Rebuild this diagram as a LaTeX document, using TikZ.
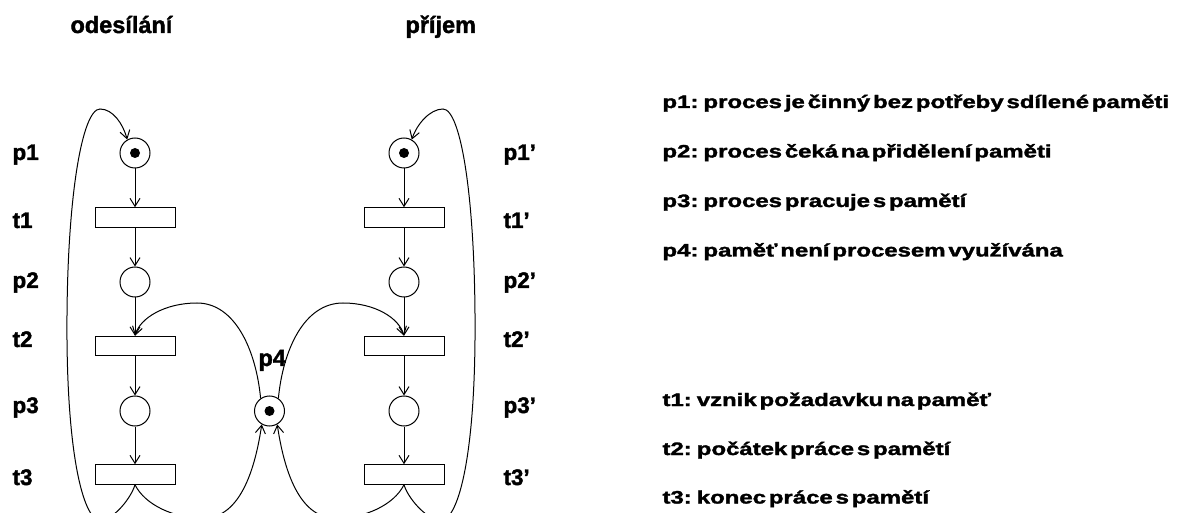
\documentclass[tikz,border=0pt]{standalone}
\usepackage{fontspec}
\setmainfont{Liberation Sans}
\newfontfamily\heavy{Liberation Sans Bold}[FakeBold=1.6]
\usetikzlibrary{arrows.meta}

\newcommand{\widetext}[1]{\scalebox{1.33}[1]{\spaceskip=.12em\relax #1}}

\begin{document}
\begin{tikzpicture}[x=1pt,y=-1pt,
  line width=1pt,
  place/.style={circle,draw,minimum size=30pt,inner sep=0pt},
  marked/.style={place,path picture={\fill (path picture bounding box.center) circle (5pt);}},
  trans/.style={rectangle,draw,minimum width=80pt,minimum height=19.5pt,inner sep=0pt},
  arc/.style={-{Straight Barb[length=8pt,width=10pt]}},
  lbl/.style={font=\heavy\fontsize{22.5}{24}\selectfont,anchor=base west,inner sep=0pt},
  heading/.style={font=\heavy\fontsize{23.5}{26}\selectfont,anchor=base west,inner sep=0pt},
  legend/.style={font=\heavy\fontsize{18}{20}\selectfont,anchor=base west,inner sep=0pt},
]
\useasboundingbox (0,0) rectangle (1179,513);
\clip (0,0) rectangle (1179,513);
\fill[white] (0,0) rectangle (1179,513);

% headings
\node[heading] (hs) at (70,33) {odesílání};
\node[heading] (hr) at (405,33) {příjem};

% sending process
\node[marked] (p1) at (135,153) {};
\node[trans]  (t1) at (135,217.5) {};
\node[place]  (p2) at (135,282) {};
\node[trans]  (t2) at (135,346) {};
\node[place]  (p3) at (135,411) {};
\node[trans]  (t3) at (135,474.5) {};

% receiving process
\node[marked] (q1) at (404,153) {};
\node[trans]  (u1) at (404,217.5) {};
\node[place]  (q2) at (404,282) {};
\node[trans]  (u2) at (404,346) {};
\node[place]  (q3) at (404,411) {};
\node[trans]  (u3) at (404,474.5) {};

% shared memory
\node[marked] (p4) at (269.5,411) {};

% labels
\node[lbl] (lp1) at (12,160) {p1};
\node[lbl] (lt1) at (12,228) {t1};
\node[lbl] (lp2) at (12,288) {p2};
\node[lbl] (lt2) at (12,347) {t2};
\node[lbl] (lp3) at (12,413) {p3};
\node[lbl] (lt3) at (12,485) {t3};
\node[lbl] (lq1) at (503,160) {p1’};
\node[lbl] (lu1) at (503,228) {t1’};
\node[lbl] (lq2) at (503,288) {p2’};
\node[lbl] (lu2) at (503,347) {t2’};
\node[lbl] (lq3) at (503,413) {p3’};
\node[lbl] (lu3) at (503,485) {t3’};
\node[lbl,font=\heavy\fontsize{23.5}{25}\selectfont] (lp4) at (258,366) {p4};

% straight arcs
\draw[arc] (p1) -- (t1);
\draw[arc] (t1) -- (p2);
\draw[arc] (p2) -- (t2);
\draw[arc] (t2) -- (p3);
\draw[arc] (p3) -- (t3);
\draw[arc] (q1) -- (u1);
\draw[arc] (u1) -- (q2);
\draw[arc] (q2) -- (u2);
\draw[arc] (u2) -- (q3);
\draw[arc] (q3) -- (u3);

% return loops t3 -> p1
\coordinate (lb) at (101,521);
\coordinate (lm) at (67,340);
\coordinate (lt) at (100,109);
\draw[arc] (t3.south) .. controls (131,498) and (115,518) .. (lb)
  .. controls (84,521) and (68,460) .. (lm)
  .. controls (66,200) and (82,109) .. (lt)
  .. controls (113,109) and (123,124) .. (p1.120);

\coordinate (rb) at (440,521);
\coordinate (rm) at (475,340);
\coordinate (rt) at (443,109);
\draw[arc] (u3.south) .. controls (408,498) and (425,518) .. (rb)
  .. controls (458,521) and (474,460) .. (rm)
  .. controls (476,200) and (461,109) .. (rt)
  .. controls (430,109) and (417,124) .. (q1.60);

% memory p4 -> t2
\coordinate (ptl) at (197,303);
\draw[arc] (p4.125) .. controls (256,350) and (235,303) .. (ptl)
  .. controls (165,303) and (140,318) .. (t2.north);
\coordinate (ptr) at (343,303);
\draw[arc] (p4.55) .. controls (283,350) and (304,303) .. (ptr)
  .. controls (375,303) and (399,318) .. (u2.north);

% memory release t3 -> p4
\coordinate (pbl) at (205,518);
\draw[arc] (t3.south) .. controls (145,505) and (175,519) .. (pbl)
  .. controls (240,517) and (255,470) .. (p4.240);
\coordinate (pbr) at (334,518);
\draw[arc] (u3.south) .. controls (394,505) and (364,519) .. (pbr)
  .. controls (299,517) and (284,470) .. (p4.300);

% legend
\node[legend] (d1) at (662,108)   {\widetext{p1: proces je činný bez potřeby sdílené paměti}};
\node[legend] (d2) at (662,157.5) {\widetext{p2: proces čeká na přidělení paměti}};
\node[legend] (d3) at (662,207)   {\widetext{p3: proces pracuje s pamětí}};
\node[legend] (d4) at (662,256.5) {\widetext{p4: paměť není procesem využívána}};
\node[legend] (e1) at (662,406)   {\widetext{t1: vznik požadavku na paměť}};
\node[legend] (e2) at (662,455)   {\widetext{t2: počátek práce s pamětí}};
\node[legend] (e3) at (662,503.5) {\widetext{t3: konec práce s pamětí}};
\end{tikzpicture}
\end{document}
